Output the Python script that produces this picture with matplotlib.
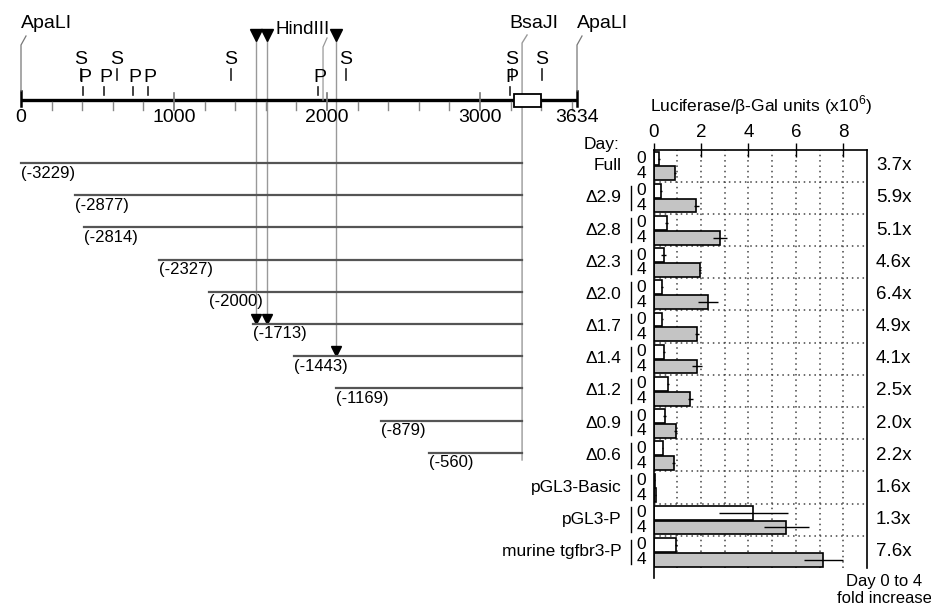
import numpy as np
import matplotlib.pyplot as plt
from matplotlib.patches import Rectangle

plt.rcParams['font.family'] = ['Liberation Sans', 'DejaVu Sans']
plt.rcParams['mathtext.fontset'] = 'custom'
plt.rcParams['mathtext.rm'] = 'Liberation Sans'

# --- promoter map (bp) ---
map_len = 3634
map_labels = [0, 1000, 2000, 3000, 3634]
s_sites = [392, 627, 1373, 2124, 3209, 3405]
p_sites = [405, 542, 732, 830, 1941, 3196]
arrow_sites = [1536, 1608, 2059]
arrow_rows = [5, 5, 6]
apali_sites = [0, 3634]
bsaji_site = 3275
hindiii_site = 1974
exon = [3222, 3399]
tss = 3229
fragments = [-3229, -2877, -2814, -2327, -2000, -1713, -1443, -1169, -879, -560]

# --- luciferase assay ---
constructs = ['Full', 'Δ2.9', 'Δ2.8', 'Δ2.3', 'Δ2.0', 'Δ1.7', 'Δ1.4', 'Δ1.2',
              'Δ0.9', 'Δ0.6', 'pGL3-Basic', 'pGL3-P', 'murine tgfbr3-P']
day0 = [0.24, 0.31, 0.55, 0.43, 0.36, 0.37, 0.45, 0.62, 0.47, 0.38, 0.06, 4.2, 0.94]
day4 = [0.9, 1.8, 2.8, 1.97, 2.3, 1.83, 1.83, 1.55, 0.93, 0.85, 0.1, 5.6, 7.15]
err0 = [0.03, 0.03, 0.05, 0.1, 0.03, 0.03, 0.03, 0.03, 0.05, 0.03, 0.02, 1.45, 0.05]
err4 = [0.05, 0.1, 0.3, 0.05, 0.42, 0.1, 0.22, 0.1, 0.08, 0.05, 0.02, 0.95, 0.82]
fold = ['3.7x', '5.9x', '5.1x', '4.6x', '6.4x', '4.9x', '4.1x', '2.5x', '2.0x',
        '2.2x', '1.6x', '1.3x', '7.6x']

W, H = 931, 606
ROW_TOP, ROW_H = 149.5, 32.19
PX = 1 / 0.153  # bp per pixel on the map


def row_px(r):
    return ROW_TOP + ROW_H * r


fig = plt.figure(figsize=(W / 100, H / 100), dpi=100)

# map panel: x in bp, y in pixels
mp = fig.add_axes([0, 0, 1, 1])
mp.set_xlim(-21 * PX, (W - 21) * PX)
mp.set_ylim(H, 0)
mp.axis('off')

mp.plot([0, map_len], [100, 100], color='black', lw=2.4, solid_capstyle='butt', zorder=2)
for u in range(200, map_len, 200):
    if u % 1000:
        mp.plot([u, u], [102, 110], color='#888888', lw=1)
for u in [1000, 2000, 3000]:
    mp.plot([u, u], [93, 110], color='#777777', lw=1.2)
for u in apali_sites:
    mp.plot([u, u], [91, 106], color='black', lw=1.8)
    mp.plot([u, u, u + 5 * PX], [91, 45, 36], color='#777777', lw=0.9)
    mp.text(u, 23, 'ApaLI', ha='left', va='center', fontsize=14)
for u in map_labels:
    mp.text(u, 117, str(u), ha='center', va='center', fontsize=14)

mp.add_patch(Rectangle((exon[0], 94), exon[1] - exon[0], 13, fc='white',
                       ec='black', lw=1.3, zorder=3))

# BsaJI and HindIII leaders
mp.plot([bsaji_site, bsaji_site, bsaji_site + 5 * PX], [460, 43, 35],
        color='#999999', lw=1, zorder=1)
mp.text(bsaji_site + 12 * PX, 24, 'BsaJI', ha='center', va='center', fontsize=14)
mp.plot([hindiii_site, hindiii_site, hindiii_site + 4 * PX], [100, 47, 38],
        color='#999999', lw=0.9)
mp.text(hindiii_site + 7 * PX, 30, 'HindIII', ha='right', va='center', fontsize=13.5)

# restriction sites
for u in s_sites:
    mp.text(u, 60, 'S', ha='center', va='center', fontsize=14)
    mp.plot([u, u], [69, 80], color='#222222', lw=1.2)
for u in p_sites:
    mp.text(u + 2 * PX, 78, 'P', ha='center', va='center', fontsize=14)
    mp.plot([u, u], [87, 95], color='#222222', lw=1.2)

# arrows down to deletion fragments
for u, r in zip(arrow_sites, arrow_rows):
    yb = row_px(r + 0.42) - 5
    mp.plot([u, u], [35, yb], color='#999999', lw=1, zorder=1)
    mp.plot([u], [35], marker='v', color='black', ms=8)
    mp.plot([u], [yb], marker='v', color='black', ms=7)

# deletion fragments
for i, f in enumerate(fragments):
    y = row_px(i + 0.42)
    mp.plot([tss + f, bsaji_site], [y, y], color='#555555', lw=1.6)
    mp.text(tss + f, y + 10, f'({f})', ha='left', va='center', fontsize=12)

# bar panel
ax = fig.add_axes([653.5 / W, 1 - 568 / H, 213.5 / W, 13 * ROW_H / H])
y = np.arange(len(constructs))
ax.set_xlim(0, 9)
ax.set_ylim(13, 0)
for v in range(1, 9):
    ax.axvline(v, color='#444444', ls=(0, (1, 2.5)), lw=1.1, zorder=0)
for r in range(1, 13):
    ax.axhline(r, color='#444444', ls=(0, (1, 2.5)), lw=1.1, zorder=0)
ax.barh(y + 0.28, day0, height=0.43, color='white', edgecolor='black', lw=1.2, zorder=2)
ax.barh(y + 0.74, day4, height=0.43, color='#c4c4c4', edgecolor='black', lw=1.2, zorder=2)
ax.errorbar(day0, y + 0.28, xerr=err0, fmt='none', ecolor='black', elinewidth=1, zorder=3)
ax.errorbar(day4, y + 0.74, xerr=err4, fmt='none', ecolor='black', elinewidth=1, zorder=3)

ax.xaxis.tick_top()
ax.set_xticks([0, 2, 4, 6, 8])
ax.tick_params(axis='x', direction='inout', length=10, width=1, labelsize=13.5, pad=1)
ax.set_yticks([])
ax.spines['bottom'].set_visible(False)
ax.spines['left'].set_bounds(0, 13.3)
for s in ['top', 'right', 'left']:
    ax.spines[s].set_linewidth(1.2)

ax.text(-1.45, -0.17, 'Day:', ha='right', va='center', fontsize=12.5, clip_on=False)
for i, name in enumerate(constructs):
    ax.text(-1.35, i + 0.5, name, ha='right', va='center', fontsize=12.5, clip_on=False)
    if i > 0:
        ax.plot([-0.95, -0.95], [i + 0.12, i + 0.88], color='black', lw=1, clip_on=False)
    ax.text(-0.5, i + 0.28, '0', ha='center', va='center', fontsize=12.5, clip_on=False)
    ax.text(-0.5, i + 0.74, '4', ha='center', va='center', fontsize=12.5, clip_on=False)
    ax.text(9.38, i + 0.5, fold[i], ha='left', va='center', fontsize=13.5, clip_on=False)

fig.text(650 / W, 1 - 105 / H, 'Luciferase/β-Gal units (x10$^6$)', ha='left',
         va='center', fontsize=12.5)
fig.text(884 / W, 1 - 590 / H, 'Day 0 to 4\nfold increase', ha='center',
         va='center', fontsize=12, linespacing=1.2)

fig.savefig('out.png', dpi=100)
